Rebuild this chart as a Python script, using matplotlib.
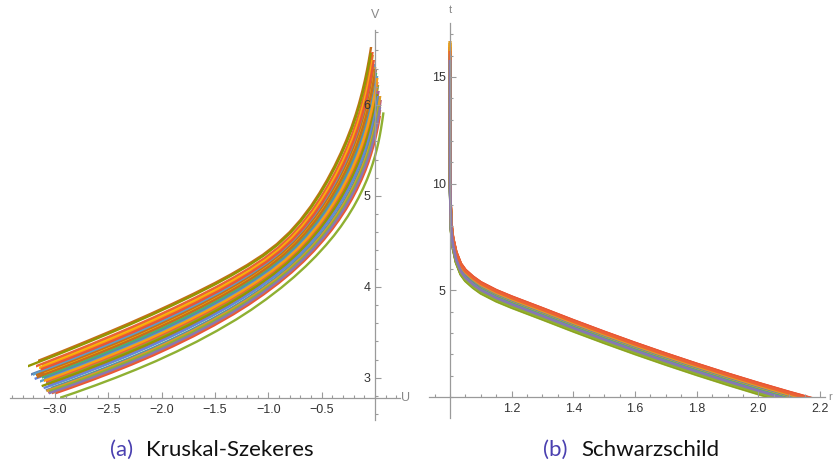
import numpy as np
import matplotlib.pyplot as plt
from matplotlib.patches import Rectangle
from matplotlib.ticker import MultipleLocator

plt.rcParams['font.family'] = ['Liberation Sans', 'DejaVu Sans']

# Mathematica default plot colours
palette = ['#5E81B5', '#E19C24', '#8FB032', '#EB6235', '#8778B3',
           '#C56E1A', '#5D9EC7', '#FFBF00', '#A5609D', '#929600',
           '#E95536', '#6685D9', '#F89F13', '#BC5B80', '#47B66D']

# (a) Kruskal-Szekeres: upper and lower edge of the bundle
ks_top_u = [-3.30, -3.10, -2.90, -2.70, -2.50, -2.30, -2.10, -1.90, -1.70, -1.50,
            -1.35, -1.20, -1.05, -0.92, -0.80, -0.70, -0.60, -0.52, -0.45, -0.38,
            -0.32, -0.27, -0.22, -0.18, -0.15, -0.12, -0.095, -0.075, -0.06, -0.045,
            -0.03, -0.015, -0.002]
ks_top_v = [3.12, 3.212, 3.306, 3.402, 3.50, 3.60, 3.704, 3.812, 3.924, 4.042,
            4.137, 4.239, 4.353, 4.47, 4.602, 4.734, 4.889, 5.033, 5.173, 5.327,
            5.474, 5.609, 5.759, 5.899, 6.016, 6.148, 6.273, 6.385, 6.478, 6.58,
            6.691, 6.811, 6.923]
ks_bot_u = [-3.00, -2.81, -2.62, -2.43, -2.24, -2.05, -1.86, -1.67, -1.48, -1.30,
            -1.16, -1.02, -0.88, -0.76, -0.65, -0.555, -0.46, -0.385, -0.32, -0.255,
            -0.20, -0.155, -0.11, -0.075, -0.048, -0.022, 0.0, 0.017, 0.03, 0.043,
            0.056, 0.068, 0.079]
ks_bot_v = [2.76, 2.836, 2.916, 3.00, 3.089, 3.184, 3.287, 3.397, 3.517, 3.641,
            3.747, 3.863, 3.989, 4.107, 4.225, 4.336, 4.458, 4.563, 4.664, 4.776,
            4.882, 4.979, 5.087, 5.181, 5.263, 5.353, 5.439, 5.514, 5.579, 5.653,
            5.738, 5.827, 5.919]
# position of each geodesic inside the bundle (0 = upper edge, 1 = lower edge)
ks_pos = [0.24, 0.13, 1.00, 0.10, 0.55, 0.00, 0.26, 0.16, 0.42, 0.03,
          0.86, 0.37, 0.18, 0.63, 0.40, 0.44, 0.32, 0.57, 0.52, 0.76,
          0.30, 0.47, 0.34, 0.61, 0.59, 0.21, 0.65, 0.49, 0.79, 0.71,
          0.72, 0.74, 0.77, 0.83, 0.81, 0.35]
ks_u_start = [-3.22, -3.12, -2.95, -3.18, -3.08, -3.155, -3.20, -3.15, -3.10, -3.25,
              -3.00, -3.22, -3.14, -3.06, -3.12, -3.10, -3.16, -3.04, -3.08, -3.05,
              -3.18, -3.14, -3.10, -3.06, -3.15, -3.13, -3.20, -3.10, -3.07, -3.04,
              -3.10, -3.12, -3.05, -3.03, -3.05, -3.17]
ks_v_end = [6.45, 6.55, 6.06, 6.58, 6.20, 6.64, 6.45, 6.50, 6.30, 6.57,
            5.88, 6.40, 6.48, 6.15, 6.35, 6.30, 6.42, 6.22, 6.25, 6.02,
            6.40, 6.32, 6.38, 6.15, 6.12, 6.50, 6.10, 6.30, 6.05, 6.08,
            6.10, 6.10, 6.00, 5.95, 5.98, 6.40]

# (b) Schwarzschild: middle of the bundle
sch_r = [1.0, 1.0005, 1.001, 1.002, 1.004, 1.007, 1.01, 1.02, 1.035, 1.05,
         1.075, 1.1, 1.15, 1.2, 1.3, 1.4, 1.5, 1.6, 1.7, 1.8,
         1.9, 2.0, 2.1, 2.2]
sch_t = [17.5, 11.0, 9.8, 8.8, 8.0, 7.5, 7.2, 6.55, 6.0, 5.7,
         5.38, 5.12, 4.75, 4.45, 3.9, 3.34, 2.8, 2.28, 1.78, 1.3,
         0.84, 0.4, -0.02, -0.42]
sch_dt = [0.05, 0.22, -0.24, 0.26, -0.12, 0.15, 0.0, 0.10, -0.05, 0.18,
          0.24, -0.08, 0.12, -0.02, -0.18, 0.08, 0.20, -0.26, 0.16, -0.15,
          0.06, -0.10, 0.02, -0.20, -0.22, 0.25, -0.04, 0.03, -0.14, -0.06,
          0.10, 0.14, -0.20, 0.20, -0.10]
sch_t_top = [16.2, 16.7, 15.6, 16.0, 15.8, 16.3, 15.9, 16.6, 15.7, 16.1,
             16.4, 15.6, 16.5, 15.9, 15.7, 16.0, 16.6, 15.5, 16.3, 15.8,
             16.2, 15.9, 16.5, 15.7, 16.0, 16.4, 15.8, 16.6, 15.9, 15.7,
             16.1, 16.7, 15.6, 16.2, 15.8]

W, H = 836, 462
fig = plt.figure(figsize=(W / 100, H / 100), dpi=100)

axis_col = '#9a9a9a'
label_col = '#333333'


def style_axes(ax, x0, y0):
    for side in ['top', 'right']:
        ax.spines[side].set_visible(False)
    ax.spines['left'].set_position(('data', x0))
    ax.spines['bottom'].set_position(('data', y0))
    for side in ['left', 'bottom']:
        ax.spines[side].set_color(axis_col)
        ax.spines[side].set_linewidth(0.9)
    ax.set_axisbelow(False)
    ax.tick_params(which='both', direction='in', color=axis_col, width=0.8,
                   labelsize=9, labelcolor=label_col)
    ax.tick_params(which='major', length=4)
    ax.tick_params(which='minor', length=2.2)
    ax.tick_params(axis='x', pad=4)
    ax.tick_params(axis='y', pad=3)
    ax.patch.set_alpha(0)


# ---- (a) Kruskal-Szekeres ----
ax1 = fig.add_axes([10 / W, 1 - 420 / H, 390 / W, 390 / H])
top_u, top_v = np.array(ks_top_u), np.array(ks_top_v)
bot_u, bot_v = np.array(ks_bot_u), np.array(ks_bot_v)
for i, s in enumerate(ks_pos):
    u = (1 - s) * top_u + s * bot_u
    v = (1 - s) * top_v + s * bot_v
    line, = ax1.plot(u, v, color=palette[i % len(palette)], lw=1.7,
                     solid_capstyle='butt', solid_joinstyle='round')
    clip = Rectangle((ks_u_start[i], 0), 5, ks_v_end[i], transform=ax1.transData)
    line.set_clip_path(clip)

ax1.set_xlim(-3.42, 0.234)
ax1.set_ylim(2.535, 6.825)
style_axes(ax1, 0.0, 2.777)
ax1.set_xticks([-3.0, -2.5, -2.0, -1.5, -1.0, -0.5])
ax1.xaxis.set_minor_locator(MultipleLocator(0.1))
ax1.set_yticks([3, 4, 5, 6])
ax1.yaxis.set_minor_locator(MultipleLocator(0.2))
ax1.text(0.243, 2.777, 'U', color='#888888', fontsize=9, va='center', ha='left',
         clip_on=False)
ax1.text(0.0, 6.92, 'V', color='#888888', fontsize=9, va='bottom', ha='center',
         clip_on=False)

# ---- (b) Schwarzschild ----
ax2 = fig.add_axes([429 / W, 1 - 418 / H, 396 / W, 395 / H])
for i, dt in enumerate(sch_dt):
    t = np.array(sch_t) + dt
    line, = ax2.plot(sch_r, t, color=palette[i % len(palette)], lw=2.0,
                     solid_capstyle='butt', solid_joinstyle='round')
    clip = Rectangle((0.9, 0), 2, sch_t_top[i], transform=ax2.transData)
    line.set_clip_path(clip)

ax2.set_xlim(0.932, 2.216)
ax2.set_ylim(-0.98, 17.53)
style_axes(ax2, 1.0, 0.0)
ax2.set_xticks([1.2, 1.4, 1.6, 1.8, 2.0, 2.2])
ax2.xaxis.set_minor_locator(MultipleLocator(0.05))
ax2.set_yticks([5, 10, 15])
ax2.yaxis.set_minor_locator(MultipleLocator(1))
ax2.text(2.226, 0.0, 'r', color='#888888', fontsize=8, va='center', ha='left',
         clip_on=False)
ax2.text(1.0, 17.9, 't', color='#888888', fontsize=8, va='bottom', ha='center',
         clip_on=False)

# captions
cap_font = ['Lato', 'DejaVu Sans']
for x_tag, x_name, tag, name in [(110, 146, '(a)', 'Kruskal-Szekeres'),
                                 (543, 581, '(b)', 'Schwarzschild')]:
    fig.text(x_tag / W, 1 - 450 / H, tag, color='#4a40b0', fontsize=16,
             family=cap_font, ha='left', va='center')
    fig.text(x_name / W, 1 - 450 / H, name, color='#111111', fontsize=16,
             family=cap_font, ha='left', va='center')

fig.savefig('out.png', dpi=100)
